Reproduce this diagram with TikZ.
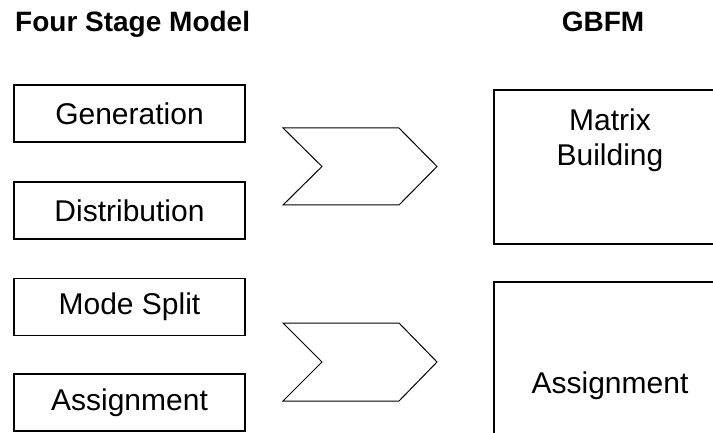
\documentclass[tikz,border=0pt]{standalone}
\usepackage{fontspec}
\setmainfont{Liberation Sans}
\begin{document}
\begin{tikzpicture}[x=1pt,y=-1pt,
  stagebox/.style={draw,line width=1.6pt,minimum width=231pt,minimum height=57pt,inner sep=0pt,
    font=\fontsize{30}{35}\selectfont},
  heading/.style={inner sep=0pt,font=\fontsize{28}{33}\selectfont\bfseries},
  label/.style={inner sep=0pt,align=center,font=\fontsize{30}{35}\selectfont},
  frame/.style={line width=1.6pt},
  chevron/.style={line width=1pt,line join=miter}]
\useasboundingbox (0,0) rectangle (713,433);

% column headings
\node[heading,anchor=base west] (hleft) at (15,32) {Four Stage Model};
\node[heading,anchor=base] (hright) at (603,32) {GBFM};

% the four classic stages
\node[stagebox] (gen)  at (129.5,113.5) {Generation};
\node[stagebox] (dist) at (129.5,210.5) {Distribution};
\node[stagebox] (mode) at (129.5,307)   {Mode Split};
\node[stagebox] (asg)  at (129.5,402.5) {Assignment};

% chevrons leading from the stage pairs to the GBFM steps
\draw[chevron] (283,128) -- (399,128) -- (437,166.5) -- (399,205) -- (283,205) -- (322,166.5) -- cycle;
\draw[chevron] (283,323) -- (399,323) -- (437,362) -- (399,401) -- (283,401) -- (322,362) -- cycle;

% GBFM steps, open towards the right and bottom edges
\draw[frame] (713,90) -- (494,90) -- (494,244) -- (713,244);
\draw[frame] (713,282) -- (494,282) -- (494,433);
\node[label] (matrix) at (610,140) {Matrix\\Building};
\node[label,anchor=base] (gasg) at (610,393) {Assignment};
\end{tikzpicture}
\end{document}
